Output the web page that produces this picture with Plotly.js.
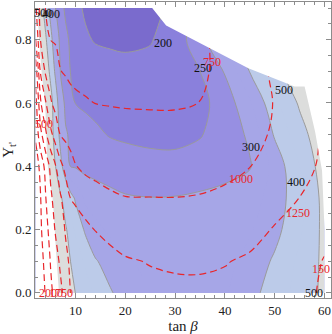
<!DOCTYPE html>
<html>
<head>
<meta charset="utf-8">
<script src="https://cdn.plot.ly/plotly-3.0.1.min.js"></script>
<style>
  body { margin: 0; background: #fff; }
  #plot1 { width: 332px; height: 334px; }
</style>
</head>
<body>
<div id="plot1"></div>
<script>
// grid of tan beta and Y_t' values
let tanBeta = [2, 3, 4, 5, 6, 7, 8, 9, 10, 12, 14, 17, 20, 25, 30, 35, 40, 45, 50, 55, 60];
let yT = [0, 0.1, 0.2, 0.3, 0.4, 0.5, 0.6, 0.7, 0.8, 0.9];

// shaded quantity, one row per Y_t' value
let shaded = [
  [900, 833, 767, 700, 633, 585, 556, 526, 499, 472, 445, 404, 382, 350, 335, 335, 345, 383, 424, 468, 512],
  [850, 790, 730, 669, 609, 570, 535, 500, 481, 442, 404, 381, 360, 330, 320, 322, 335, 365, 408, 460, 512],
  [800, 747, 695, 642, 592, 550, 508, 474, 442, 391, 364, 340, 325, 310, 305, 308, 320, 345, 383, 442, 515],
  [780, 727, 674, 621, 567, 511, 465, 422, 392, 339, 324, 312, 304, 301, 302, 308, 315, 323, 375, 429, 520],
  [740, 684, 628, 567, 500, 423, 356, 299, 295, 285, 282, 277, 273, 267, 266, 270, 282, 296, 366, 450, 530],
  [700, 655, 609, 543, 460, 373, 307, 291, 280, 268, 258, 247, 242, 237, 236, 247, 272, 308, 406, 479, 540],
  [690, 643, 594, 531, 450, 338, 286, 266, 249, 242, 238, 234, 230, 226, 228, 238, 269, 344, 439, 507, 560],
  [670, 612, 550, 480, 380, 295, 271, 249, 245, 235, 226, 219, 215, 218, 230, 250, 304, 402, 484, 536, 580],
  [650, 580, 513, 427, 342, 284, 261, 243, 231, 207, 196, 192, 190, 196, 229, 275, 360, 438, 500, 550, 600],
  [630, 542, 455, 371, 300, 267, 242, 228, 213, 193, 180, 176, 172, 182, 215, 262, 330, 410, 480, 540, 600]
];

// dashed quantity on the same grid
let dashed = [
  [2600, 2392, 2229, 2050, 1919, 1805, 1660, 1495, 1440, 1400, 1375, 1345, 1322, 1300, 1290, 1290, 1300, 1330, 1380, 1440, 1530],
  [2500, 2344, 2173, 1986, 1847, 1703, 1547, 1467, 1420, 1375, 1330, 1294, 1269, 1241, 1225, 1222, 1240, 1279, 1340, 1420, 1510],
  [2400, 2285, 2098, 1898, 1724, 1592, 1484, 1432, 1380, 1307, 1245, 1207, 1150, 1100, 1085, 1090, 1120, 1180, 1265, 1360, 1450],
  [2350, 2255, 2012, 1793, 1650, 1525, 1382, 1246, 1207, 1130, 1080, 1030, 1005, 1003, 1002, 1012, 1040, 1090, 1170, 1252, 1330],
  [2400, 2168, 1918, 1693, 1514, 1310, 1187, 1098, 1009, 950, 930, 912, 905, 902, 903, 915, 945, 997, 1080, 1180, 1290],
  [2200, 1821, 1550, 1318, 1133, 991, 945, 900, 883, 850, 838, 825, 818, 812, 811, 820, 850, 920, 1033, 1150, 1280],
  [2100, 1529, 1274, 1025, 929, 850, 820, 790, 781, 763, 748, 741, 736, 733, 733, 752, 800, 880, 1011, 1150, 1300],
  [1900, 1208, 964, 893, 821, 752, 737, 723, 710, 702, 694, 686, 680, 679, 683, 717, 806, 912, 1029, 1150, 1280],
  [1500, 987, 855, 748, 736, 725, 713, 702, 690, 684, 678, 669, 660, 660, 672, 718, 800, 900, 1003, 1100, 1250],
  [1300, 889, 740, 720, 700, 693, 685, 678, 670, 664, 658, 649, 640, 640, 657, 700, 790, 880, 987, 1093, 1200]
];

// levels drawn as solid gray lines
let shadedLevels = [200, 250, 300, 400, 500];

// edge of the region with results (top right corner is empty)
let edgeX = [25.4, 28.2, 44.7, 54, 56, 58.1, 59.5, 60, 60, 62, 62, 25.4];
let edgeY = [0.9, 0.845, 0.71, 0.652, 0.652, 0.51, 0.387, 0.2, 0, 0, 0.95, 0.95];

// contour labels
let blackLabels = ["500", "400", "200", "250", "500", "300", "400", "500"];
let blackLabelX = [3.5, 5.1, 27.6, 35.6, 51.9, 45.2, 54.3, 57.9];
let blackLabelY = [0.883, 0.88, 0.791, 0.712, 0.64, 0.46, 0.349, 0.0];
let redLabels = ["500", "750", "1000", "1250", "150", "2000", "1750"];
let redLabelX = [3.6, 37.4, 43.2, 54.7, 59.3, 5.0, 7.0];
let redLabelY = [0.535, 0.728, 0.359, 0.254, 0.075, 0.0, 0.0];

// band colours: <200, 200-250, 250-300, 300-400, 400-500, 500-600, above
let c = ["#7a6bcd", "#8a80dc", "#978fe2", "#a6a6e7", "#bccbe9", "#dcdddc", "#ffffff"];
let k = 1 / 9;
let bandScale = [
  [0, c[0]], [0.5 * k, c[0]], [0.5 * k, c[1]], [1.5 * k, c[1]], [1.5 * k, c[2]], [2.5 * k, c[2]],
  [2.5 * k, c[3]], [4.5 * k, c[3]], [4.5 * k, c[4]], [6.5 * k, c[4]], [6.5 * k, c[5]], [8.5 * k, c[5]],
  [8.5 * k, c[6]], [1, c[6]]
];

let data = [];

// filled bands
data.push({
  type: "contour", x: tanBeta, y: yT, z: shaded,
  autocontour: false,
  contours: {start: 200, end: 600, size: 50, coloring: "fill", showlines: false},
  colorscale: bandScale, showscale: false, hoverinfo: "skip",
  line: {smoothing: 1}
});

// gray lines, one trace per level
shadedLevels.forEach(function (lev) {
  data.push({
    type: "contour", x: tanBeta, y: yT, z: shaded,
    autocontour: false,
    contours: {start: lev, end: lev, size: 50, coloring: "none"},
    line: {color: "#9a9a9a", width: 1, smoothing: 1},
    showscale: false, hoverinfo: "skip"
  });
});

// red dashed contours
data.push({
  type: "contour", x: tanBeta, y: yT, z: dashed,
  autocontour: false,
  contours: {start: 750, end: 2250, size: 250, coloring: "none"},
  line: {color: "#e8262b", width: 1.2, dash: "7px,4px", smoothing: 1},
  showscale: false, hoverinfo: "skip"
});

// blank out the part with no results
data.push({
  type: "scatter", x: edgeX, y: edgeY, mode: "none",
  fill: "toself", fillcolor: "#ffffff", hoverinfo: "skip", showlegend: false
});

let annotations = [];
blackLabels.forEach(function (t, i) {
  annotations.push({x: blackLabelX[i], y: blackLabelY[i], xref: "x", yref: "y", text: t,
    showarrow: false, font: {family: "Liberation Serif, serif", size: 12, color: "#111"}});
});
redLabels.forEach(function (t, i) {
  annotations.push({x: redLabelX[i], y: redLabelY[i], xref: "x", yref: "y", text: t,
    showarrow: false, font: {family: "Liberation Serif, serif", size: 12, color: "#e8262b"}});
});

let axisStyle = {
  showgrid: false, zeroline: false, showline: true, linecolor: "#8c8c8c", linewidth: 1,
  mirror: "ticks", ticks: "inside", ticklen: 5, tickcolor: "#8c8c8c", automargin: false,
  tickfont: {family: "Liberation Serif, serif", size: 13, color: "#222"}
};

let layout = {
  width: 332, height: 334,
  margin: {l: 35, r: 1, t: 2, b: 36},
  paper_bgcolor: "#fff", plot_bgcolor: "#fff",
  showlegend: false,
  font: {family: "Liberation Serif, serif"},
  xaxis: Object.assign({}, axisStyle, {
    range: [1.87, 61.3], tickvals: [10, 20, 30, 40, 50, 60],
    minor: {dtick: 2, tick0: 0, ticklen: 3, tickcolor: "#8c8c8c", ticks: "inside"},
    title: {text: "tan <i>β</i>", font: {size: 15, color: "#222"}, standoff: 2}
  }),
  yaxis: Object.assign({}, axisStyle, {
    range: [-0.016, 0.919], tickvals: [0, 0.2, 0.4, 0.6, 0.8], tickformat: ".1f",
    minor: {dtick: 0.05, tick0: 0, ticklen: 3, tickcolor: "#8c8c8c", ticks: "inside"},
    title: {text: "Y<sub>t'</sub>", font: {size: 15, color: "#222"}, standoff: 4}
  }),
  annotations: annotations
};

Plotly.newPlot("plot1", data, layout, {staticPlot: true});
</script>
</body>
</html>
